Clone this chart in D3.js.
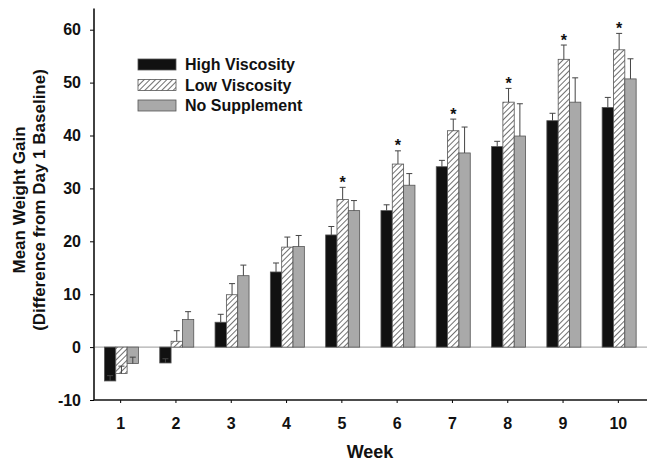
<!DOCTYPE html>
<head>
  <meta charset="utf-8">
  <script src="https://d3js.org/d3.v7.min.js"></script>
  <style>
    body { margin:0; background:#fff; }
    text { font-family: "Liberation Sans", Arial, sans-serif; font-weight: bold; fill:#111; }
  </style>
</head>
<body>
  <script>
    // values
    var weeks = [1, 2, 3, 4, 5, 6, 7, 8, 9, 10];
    var seriesNames = ["High Viscosity", "Low Viscosity", "No Supplement"];
    var highVisc = [-6.4, -3.0, 4.7, 14.2, 21.2, 25.8, 34.1, 37.9, 42.8, 45.3];
    var highErr  = [1.0, 0.8, 1.5, 1.7, 1.6, 1.1, 1.2, 1.0, 1.4, 1.9];
    var lowVisc  = [-5.0, 1.1, 9.9, 18.9, 27.9, 34.6, 40.9, 46.3, 54.4, 56.2];
    var lowErr   = [1.4, 2.0, 2.1, 1.9, 2.3, 2.5, 2.2, 2.6, 2.7, 3.1];
    var noSupp   = [-3.1, 5.2, 13.5, 19.0, 25.8, 30.6, 36.7, 39.9, 46.3, 50.7];
    var noErr    = [1.2, 1.5, 2.0, 2.1, 1.9, 2.2, 4.9, 6.1, 4.6, 3.8];
    var starWeeks = [5, 6, 7, 8, 9, 10];
    var yTicks = [-10, 0, 10, 20, 30, 40, 50, 60];

    var width = 650, height = 461;

    var svg = d3.select("body").append("svg")
      .attr("width", width)
      .attr("height", height);

    // hatch pattern for low viscosity
    var defs = svg.append("defs");
    var pat = defs.append("pattern")
      .attr("id", "hatch")
      .attr("patternUnits", "userSpaceOnUse")
      .attr("width", 4).attr("height", 4)
      .attr("patternTransform", "rotate(45)");
    pat.append("rect").attr("width", 4).attr("height", 4).attr("fill", "#fff");
    pat.append("line").attr("x1", 0).attr("y1", 0).attr("x2", 0).attr("y2", 4)
      .attr("stroke", "#222").attr("stroke-width", 1.3);

    var fills = ["#111", "url(#hatch)", "#a9a9a9"];

    var x = d3.scaleBand().domain(weeks).range([93, 646]);
    var groupW = 34;
    var xs = d3.scaleBand().domain(seriesNames)
      .range([(x.bandwidth() - groupW) / 2 + 0.8, (x.bandwidth() + groupW) / 2 + 0.8]);
    var y = d3.scaleLinear().domain([-10, 60]).range([400, 29.7]);

    var table = weeks.map(function(w, i) {
      return [
        {week: w, s: seriesNames[0], v: highVisc[i], e: highErr[i], k: 0},
        {week: w, s: seriesNames[1], v: lowVisc[i], e: lowErr[i], k: 1},
        {week: w, s: seriesNames[2], v: noSupp[i], e: noErr[i], k: 2}
      ];
    });
    var flat = [].concat.apply([], table);

    // zero line
    svg.append("line")
      .attr("x1", 95).attr("x2", 647)
      .attr("y1", y(0)).attr("y2", y(0))
      .attr("stroke", "#999").attr("stroke-width", 1);

    // bars
    svg.selectAll(".bar")
      .data(flat)
    .enter().append("rect")
      .attr("class", "bar")
      .attr("x", function(d) { return x(d.week) + xs(d.s); })
      .attr("width", xs.bandwidth())
      .attr("y", function(d) { return y(Math.max(0, d.v)); })
      .attr("height", function(d) { return Math.abs(y(d.v) - y(0)); })
      .attr("fill", function(d) { return fills[d.k]; })
      .attr("stroke", "#555").attr("stroke-width", 0.8);

    // error bars (upward)
    var eb = svg.selectAll(".err")
      .data(flat)
    .enter().append("g")
      .attr("class", "err")
      .attr("stroke", "#444").attr("stroke-width", 1);
    eb.append("line")
      .attr("x1", function(d) { return x(d.week) + xs(d.s) + xs.bandwidth() / 2; })
      .attr("x2", function(d) { return x(d.week) + xs(d.s) + xs.bandwidth() / 2; })
      .attr("y1", function(d) { return y(d.v); })
      .attr("y2", function(d) { return y(d.v + d.e); });
    eb.append("line")
      .attr("x1", function(d) { return x(d.week) + xs(d.s) + xs.bandwidth() / 2 - 3; })
      .attr("x2", function(d) { return x(d.week) + xs(d.s) + xs.bandwidth() / 2 + 3; })
      .attr("y1", function(d) { return y(d.v + d.e); })
      .attr("y2", function(d) { return y(d.v + d.e); });

    // significance stars
    svg.selectAll(".star")
      .data(starWeeks)
    .enter().append("text")
      .attr("class", "star")
      .attr("text-anchor", "middle")
      .attr("font-size", 16)
      .attr("x", function(w) { return x(w) + xs(seriesNames[1]) + xs.bandwidth() / 2; })
      .attr("y", function(w) { var i = weeks.indexOf(w); return y(lowVisc[i] + lowErr[i]) + 0.5; })
      .text("*");

    // y axis
    var yAxis = d3.axisLeft(y).tickValues(yTicks).tickFormat(String)
      .tickSize(4).tickPadding(9).tickSizeOuter(0);
    var gy = svg.append("g").attr("transform", "translate(94,0)").call(yAxis);
    gy.select(".domain").remove();
    gy.append("line").attr("x1", 0).attr("x2", 0).attr("y1", y(64)).attr("y2", y(-10))
      .attr("stroke", "#111").attr("stroke-width", 1.6);
    gy.selectAll("text").attr("font-size", 16).style("font-family", "Liberation Sans").style("font-weight", "bold");

    // x axis
    var xAxis = d3.axisBottom(x).tickSize(3).tickPadding(15).tickSizeOuter(0);
    var gx = svg.append("g").attr("transform", "translate(0,400)").call(xAxis);
    gx.select(".domain").remove();
    gx.append("line").attr("x1", 94).attr("x2", 647).attr("y1", 0).attr("y2", 0)
      .attr("stroke", "#111").attr("stroke-width", 1.6);
    gx.selectAll("text").attr("font-size", 16).style("font-family", "Liberation Sans").style("font-weight", "bold");

    // axis titles
    svg.append("text")
      .attr("x", 370).attr("y", 458)
      .attr("text-anchor", "middle").attr("font-size", 18)
      .text("Week");
    var yl = svg.append("text")
      .attr("transform", "translate(25,200) rotate(-90)")
      .attr("text-anchor", "middle").attr("font-size", 17);
    yl.append("tspan").attr("x", 0).attr("y", 0).text("Mean Weight Gain");
    yl.append("tspan").attr("x", 0).attr("y", 20).text("(Difference from Day 1 Baseline)");

    // legend
    var lg = svg.selectAll(".leg")
      .data(seriesNames)
    .enter().append("g")
      .attr("class", "leg")
      .attr("transform", function(d, i) { return "translate(138," + (59 + i * 20.5) + ")"; });
    lg.append("rect")
      .attr("width", 38).attr("height", 11)
      .attr("fill", function(d, i) { return fills[i]; })
      .attr("stroke", "#555").attr("stroke-width", 0.8);
    lg.append("text")
      .attr("x", 47).attr("y", 11)
      .attr("font-size", 16)
      .text(function(d) { return d; });
  </script>
</body>
